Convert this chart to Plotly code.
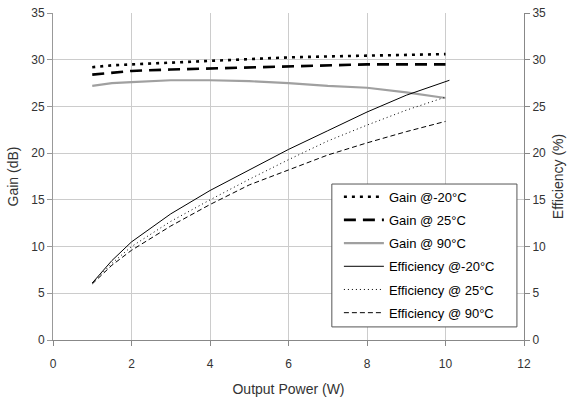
import plotly.graph_objects as go

x_power = [1, 1.5, 2, 3, 4, 5, 6, 7, 8, 9, 10]
x_eff_m20 = [1, 1.5, 2, 3, 4, 5, 6, 7, 8, 9, 10.1]

gain_m20 = [29.2, 29.4, 29.5, 29.7, 29.9, 30.1, 30.25, 30.35, 30.45, 30.5, 30.6]
gain_25 = [28.4, 28.6, 28.8, 28.95, 29.05, 29.15, 29.3, 29.4, 29.5, 29.5, 29.5]
gain_90 = [27.2, 27.5, 27.6, 27.8, 27.8, 27.7, 27.5, 27.2, 27.0, 26.5, 25.9]

eff_m20 = [6.1, 8.5, 10.5, 13.5, 16.0, 18.2, 20.4, 22.4, 24.4, 26.2, 27.8]
eff_25 = [6.1, 8.2, 10.0, 12.7, 15.0, 17.2, 19.3, 21.3, 23.0, 24.6, 26.0]
eff_90 = [6.0, 8.0, 9.6, 12.2, 14.5, 16.6, 18.2, 19.8, 21.1, 22.3, 23.4]

names = ["Gain @-20°C", "Gain @ 25°C", "Gain @ 90°C",
         "Efficiency @-20°C", "Efficiency @ 25°C", "Efficiency @ 90°C"]

fig = go.Figure()
fig.add_trace(go.Scatter(x=x_power, y=gain_m20, mode="lines", name=names[0],
                         line=dict(color="black", width=2.6, dash="3px,5px"),
                         legendgroup="a"))
fig.add_trace(go.Scatter(x=x_power, y=gain_25, mode="lines", name=names[1],
                         line=dict(color="black", width=2.6, dash="12px,7px"),
                         legendgroup="b"))
fig.add_trace(go.Scatter(x=x_power, y=gain_90, mode="lines", name=names[2],
                         line=dict(color="#a0a0a0", width=2.2),
                         legendgroup="c"))
fig.add_trace(go.Scatter(x=x_eff_m20, y=eff_m20, mode="lines", name=names[3],
                         line=dict(color="black", width=1), yaxis="y2",
                         legendgroup="d"))
fig.add_trace(go.Scatter(x=x_power, y=eff_25, mode="lines", name=names[4],
                         line=dict(color="black", width=1, dash="1px,3px"), yaxis="y2",
                         legendgroup="e"))
fig.add_trace(go.Scatter(x=x_power, y=eff_90, mode="lines", name=names[5],
                         line=dict(color="black", width=1, dash="5px,3px"), yaxis="y2",
                         legendgroup="f"))

# legend frame (white box above the plotted lines)
fig.add_shape(type="rect", xref="paper", yref="paper",
              x0=0.592, x1=0.985, y0=0.040, y1=0.477, layer="above",
              fillcolor="white", line=dict(color="#555555", width=1))

font_color = "#333333"
fig.update_layout(
    width=567, height=400,
    margin=dict(l=53, r=43, t=13, b=60),
    paper_bgcolor="white", plot_bgcolor="white",
    font=dict(family="Liberation Sans, Arial, sans-serif", size=12, color=font_color),
    showlegend=True,
    legend=dict(x=0.607, y=0.484, xanchor="left", yanchor="top",
                bgcolor="rgba(0,0,0,0)", borderwidth=0,
                traceorder="grouped", tracegroupgap=3.3, itemwidth=40,
                font=dict(size=13, color="black")),
    xaxis=dict(range=[0, 12], dtick=2, showgrid=True, gridcolor="#cccccc",
               showline=True, linecolor="#888888", ticks="outside", ticklen=5,
               tickcolor="#888888", zeroline=False, automargin=False,
               ticklabelstandoff=8,
               title=dict(text="Output Power (W)", standoff=13)),
    yaxis=dict(range=[0, 35], dtick=5, showgrid=True, gridcolor="#cccccc",
               showline=True, linecolor="#999999", ticks="outside", ticklen=5,
               tickcolor="#999999", zeroline=False, automargin=False,
               title=dict(text="Gain (dB)", standoff=9)),
    yaxis2=dict(range=[0, 35], dtick=5, overlaying="y", side="right",
                showgrid=False, showline=True, linecolor="#888888",
                ticks="outside", ticklen=5, tickcolor="#888888", zeroline=False,
                automargin=False,
                title=dict(text="Efficiency (%)", standoff=8)),
)

fig.write_html("out.html", config={"displayModeBar": False},
               post_script="document.body.style.margin='0';")
